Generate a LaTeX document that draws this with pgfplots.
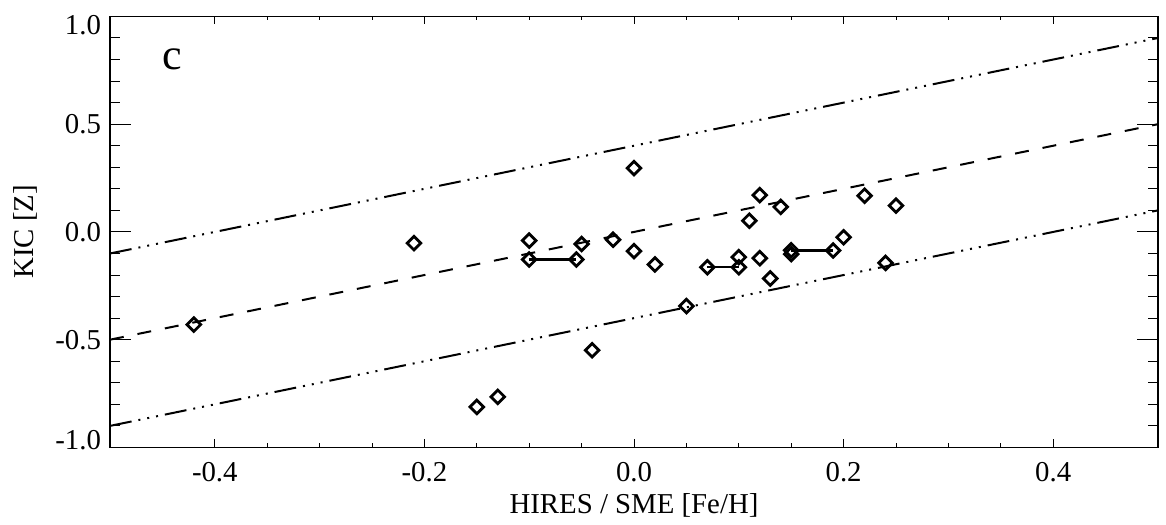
\documentclass[border=0pt]{standalone}
\usepackage{pgfplots}
\pgfplotsset{compat=1.18}
\usepackage{fontspec}
\setmainfont{Liberation Serif}
\pgfplotstableread{
x y
-0.42 -0.43
-0.21 -0.052
-0.10 -0.040
-0.10 -0.128
-0.055 -0.128
-0.05 -0.056
-0.02 -0.036
0.00 0.296
0.00 -0.089
0.02 -0.151
0.07 -0.164
0.10 -0.164
0.10 -0.117
0.11 0.052
0.12 0.171
0.12 -0.122
0.13 -0.216
0.14 0.116
0.15 -0.085
0.15 -0.103
0.19 -0.086
0.20 -0.025
0.22 0.168
0.25 0.122
0.24 -0.144
-0.04 -0.549
0.05 -0.344
-0.15 -0.812
-0.13 -0.765
}\pts
\begin{document}
\begin{tikzpicture}
\begin{axis}[
  name=ax,
  scale only axis,
  width=524pt, height=215.5pt,
  xmin=-0.5, xmax=0.5, ymin=-1, ymax=1,
  xtick={-0.4,-0.2,0,0.2,0.4},
  xticklabels={-0.4,-0.2,0.0,0.2,0.4},
  ytick={-1,-0.5,0,0.5,1},
  yticklabels={\raisebox{3.5pt}[\height][\depth]{-1.0},-0.5,0.0,0.5,\raisebox{-4.5pt}[\height][\depth]{1.0}},
  minor x tick num=3, minor y tick num=4,
  tick align=inside,
  x tick style={/pgfplots/major tick length=4pt,/pgfplots/minor tick length=2pt},
  y tick style={/pgfplots/major tick length=10.5pt,/pgfplots/minor tick length=5pt},
  tick style={black, line width=0.5pt},
  axis line style={line width=0.6pt},
  ticklabel style={font=\fontsize{14.4}{16}\selectfont},
  xticklabel style={yshift=-3.7pt},
  yticklabel style={xshift=-1pt},
  label style={font=\fontsize{14.4}{16}\selectfont},
  xlabel={HIRES / SME [Fe/H]},
  ylabel={KIC [Z]},
  xlabel style={at={([yshift=-29pt]axis description cs:0.5,0)}, anchor=center},
  ylabel style={at={([xshift=-42.5pt]axis description cs:0,0.5)}, anchor=center},
  clip=true,
]
\addplot[black, line width=1pt, dash pattern=on 11pt off 3.5pt on 1pt off 3.5pt on 1pt off 3.5pt on 1pt off 3.5pt] coordinates {(-0.5,-0.1) (0.5,0.9)};
\addplot[black, line width=1pt, dash pattern=on 7pt off 7pt] coordinates {(-0.5,-0.5) (0.5,0.5)};
\addplot[black, line width=1pt, dash pattern=on 11pt off 3.5pt on 1pt off 3.5pt on 1pt off 3.5pt on 1pt off 3.5pt] coordinates {(-0.5,-0.9) (0.5,0.1)};
\addplot[black, line width=1.2pt] coordinates {(-0.10,-0.128) (-0.055,-0.128)};
\addplot[black, line width=1.2pt] coordinates {(0.07,-0.164) (0.10,-0.164)};
\addplot[black, line width=1.2pt] coordinates {(0.15,-0.086) (0.19,-0.086)};
\addplot[only marks, mark=square, mark size=2.4pt, mark options={rotate=45, line width=1.4pt, black, fill=white}] table[x=x,y=y] {\pts};
\coordinate (bl) at (rel axis cs:0,0);
\coordinate (tr) at (rel axis cs:1,1);
\end{axis}
\node[font=\fontsize{22}{24}\selectfont] at ([shift={(31pt,-21.5pt)}]tr -| bl) {c};
\path ([shift={(-55pt,-38.5pt)}]bl) rectangle ([shift={(4pt,6pt)}]tr);
\end{tikzpicture}
\end{document}
